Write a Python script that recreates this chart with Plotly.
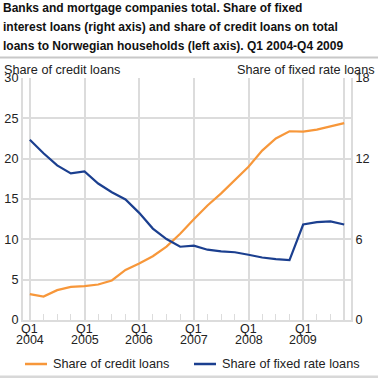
import plotly.graph_objects as go

quarters = [f"Q{q} {y}" for y in range(2004, 2010) for q in range(1, 5)]
credit_loans = [3.2, 2.9, 3.7, 4.1, 4.2, 4.4, 4.9, 6.2, 7.0, 7.9, 9.1, 10.7,
                12.5, 14.2, 15.7, 17.3, 19.0, 21.0, 22.5, 23.4, 23.35, 23.6, 24.0, 24.4]
fixed_rate = [13.4, 12.4, 11.5, 10.9, 11.05, 10.15, 9.5, 8.97, 7.97, 6.8, 6.02, 5.45,
              5.53, 5.23, 5.11, 5.04, 4.85, 4.65, 4.53, 4.45, 7.1, 7.28, 7.33, 7.1]
tick_idx = [0, 4, 8, 12, 16, 20, 23]
quarter_labels = ["Q1", "Q1", "Q1", "Q1", "Q1", "Q1"]
year_labels = ["2004", "2005", "2006", "2007", "2008", "2009"]
title_lines = ["Banks and mortgage companies total. Share of fixed",
               "interest loans (right axis) and share of credit loans on total",
               "loans to Norwegian households (left axis). Q1 2004-Q4 2009"]
series_names = ["Share of credit loans", "Share of fixed rate loans"]

xs = list(range(len(quarters)))
ORANGE = "#F7973A"
BLUE = "#1B3F8F"
GRID = "#DCDCDC"
FONT = "Liberation Sans, Arial, sans-serif"
W, H = 378, 378
LEFT, RIGHT, TOP, BOT = 23, 351, 78, 320
PH = BOT - TOP
PW = RIGHT - LEFT


def py(pix):
    return (BOT - pix) / PH


def px(pix):
    return (pix - LEFT) / PW


fig = go.Figure()
fig.add_trace(go.Scatter(x=xs, y=credit_loans, name=series_names[0], mode="lines",
                         line=dict(color=ORANGE, width=2.2), yaxis="y",
                         text=quarters, hoverinfo="text+y"))
fig.add_trace(go.Scatter(x=xs, y=fixed_rate, name=series_names[1], mode="lines",
                         line=dict(color=BLUE, width=2.2), yaxis="y2",
                         text=quarters, hoverinfo="text+y"))

fig.update_layout(
    width=W, height=H,
    margin=dict(l=LEFT, r=W - RIGHT, t=TOP, b=H - BOT, autoexpand=False),
    paper_bgcolor="white", plot_bgcolor="white",
    font=dict(family=FONT, size=12, color="#222"),
    showlegend=False,
    xaxis=dict(range=[-0.5, 23.5], tickmode="array", tickvals=tick_idx, showticklabels=False,
               showgrid=True, gridcolor=GRID, gridwidth=2, zeroline=False,
               showline=True, linecolor=GRID, linewidth=2,
               ticks="inside", ticklen=6, tickcolor=GRID, tickwidth=1,
               minor=dict(tickmode="array", tickvals=xs, ticks="inside", ticklen=6,
                          tickcolor=GRID, tickwidth=1, showgrid=False),
               automargin=False, fixedrange=True),
    yaxis=dict(range=[0, 30], tickmode="linear", tick0=0, dtick=5,
               showgrid=True, gridcolor=GRID, gridwidth=2, zeroline=False, automargin=False,
               showline=True, linecolor=GRID, linewidth=2, ticks="", tickfont=dict(size=12.7)),
    yaxis2=dict(range=[0, 18], tickmode="linear", tick0=0, dtick=6, overlaying="y", side="right",
                showgrid=False, zeroline=False, showline=True, linecolor=GRID, linewidth=2,
                automargin=False, ticks="", tickfont=dict(size=12.7)),
)

for i, line in enumerate(title_lines):
    fig.add_annotation(text="<b>" + line + "</b>", xref="paper", yref="paper", x=px(1), y=py(8 + 19 * i),
                       xanchor="left", yanchor="middle", align="left", showarrow=False,
                       font=dict(size=12, color="#111"))
for xi, ql, yr in zip(tick_idx, quarter_labels, year_labels):
    fig.add_annotation(text=ql, xref="x", yref="paper", x=xi, y=py(328.5), xanchor="center",
                       yanchor="middle", showarrow=False, font=dict(size=12.5, color="#222"))
    fig.add_annotation(text=yr, xref="x", yref="paper", x=xi, y=py(339.5), xanchor="center",
                       yanchor="middle", showarrow=False, font=dict(size=12.5, color="#222"))
fig.add_annotation(text="Share of credit loans", xref="paper", yref="paper", x=px(2), y=py(70),
                   xanchor="left", yanchor="middle", showarrow=False,
                   font=dict(size=12.7, color="#222"))
fig.add_annotation(text="Share of fixed rate loans", xref="paper", yref="paper", x=px(377), y=py(70),
                   xanchor="right", yanchor="middle", showarrow=False,
                   font=dict(size=12.7, color="#222"))

# legend drawn manually
legend_items = [(25, 47, 51, ORANGE), (194, 216, 220, BLUE)]
for (x0, x1, xt, col), name in zip(legend_items, series_names):
    fig.add_shape(type="line", xref="paper", yref="paper", x0=px(x0), x1=px(x1),
                  y0=py(364), y1=py(364), line=dict(color=col, width=2.5))
    fig.add_annotation(text=name, xref="paper", yref="paper", x=px(xt), y=py(364),
                       xanchor="left", yanchor="middle", showarrow=False,
                       font=dict(size=12.7, color="#222"))

fig.add_shape(type="line", xref="paper", yref="paper", x0=px(0), x1=px(W), y0=py(57.5), y1=py(57.5),
              line=dict(color="#C8C8C8", width=2))
fig.add_shape(type="line", xref="paper", yref="paper", x0=px(0), x1=px(W), y0=py(377), y1=py(377),
              line=dict(color="#D8D8D8", width=3))

fig.write_html("out.html", config={"displayModeBar": False},
               post_script="document.body.style.margin='0';document.body.style.padding='0';")
